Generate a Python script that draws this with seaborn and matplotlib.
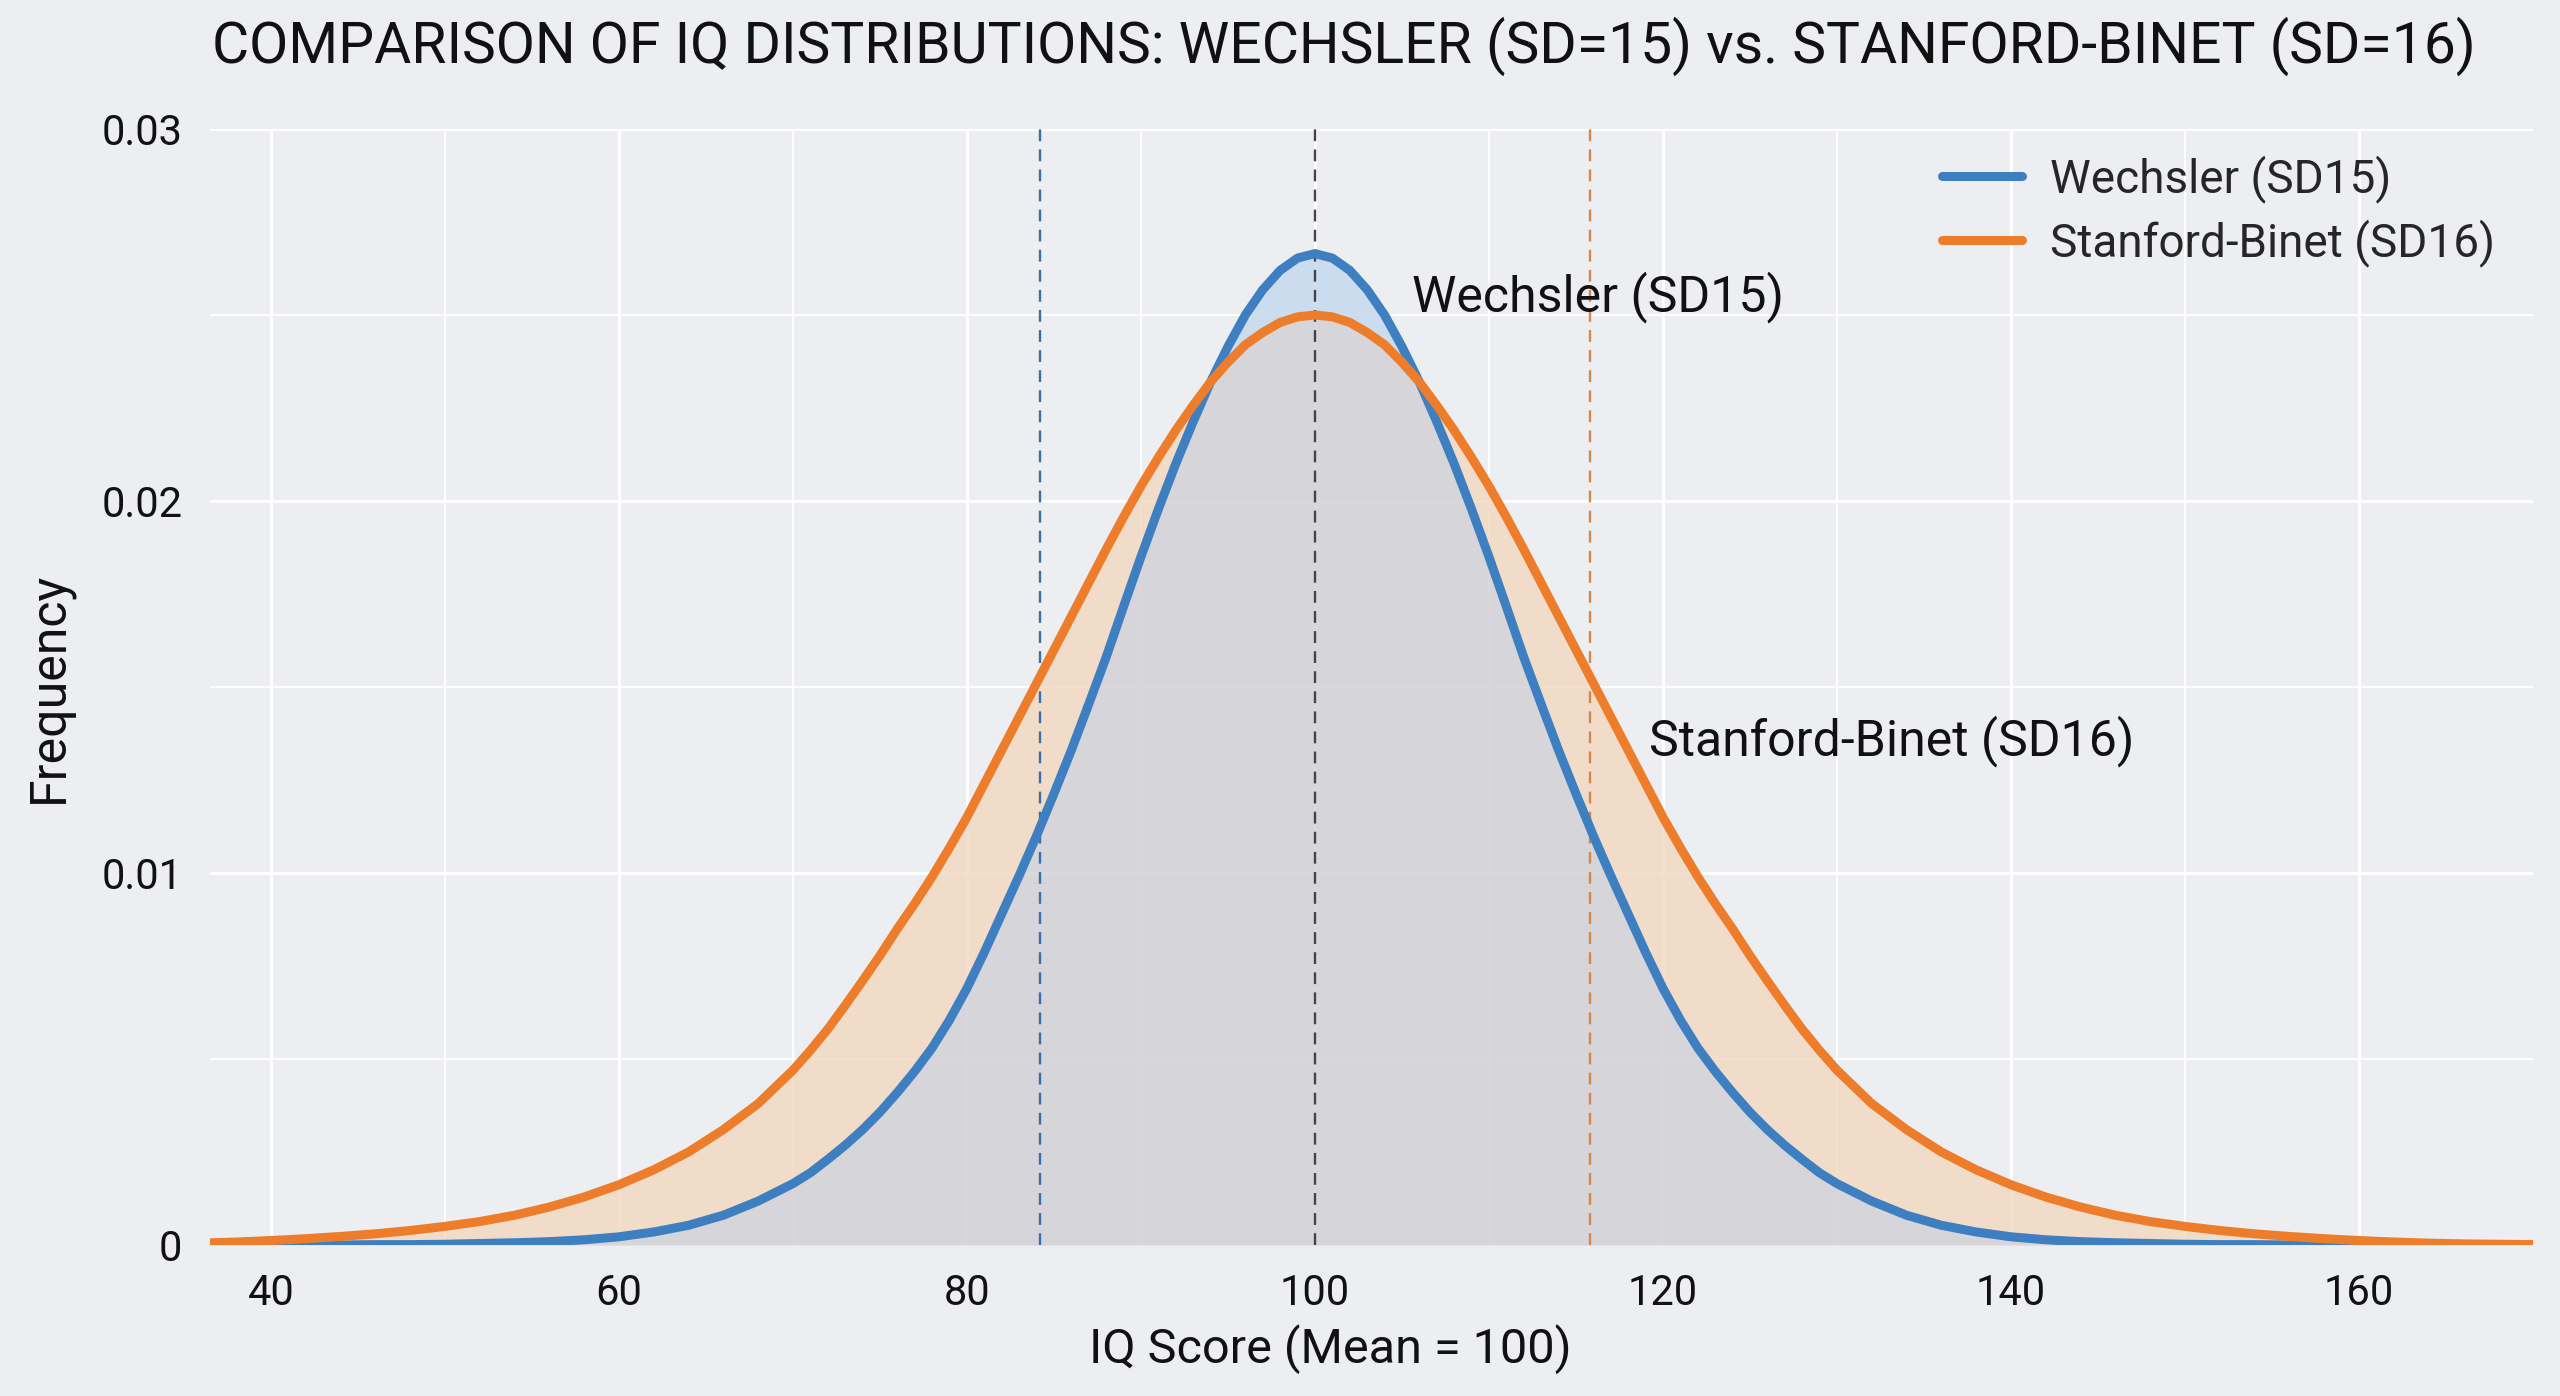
import numpy as np
import pandas as pd
import matplotlib
matplotlib.use("Agg")
import matplotlib.pyplot as plt
from matplotlib.ticker import MultipleLocator, FixedLocator
from matplotlib.lines import Line2D
import seaborn as sns

# values (every 2 points in the tails, every point in the middle)
wechsler_iq = list(range(40, 70, 2)) + list(range(70, 131)) + list(range(132, 161, 2))
wechsler_freq = [
    0.0, 0.0, 0.0, 0.00001, 0.00001, 0.00002, 0.00004, 0.00006, 0.00009, 0.00014,
    0.00022, 0.00035, 0.00053, 0.00080, 0.00118,
    0.00165, 0.00194, 0.00230, 0.00268, 0.00310, 0.00357, 0.00410, 0.00467, 0.00530, 0.00605,
    0.00690, 0.00787, 0.00890, 0.00993, 0.01100, 0.01213, 0.01330, 0.01454, 0.01580, 0.01716,
    0.01850, 0.01978, 0.02100, 0.02213, 0.02320, 0.02415, 0.02500, 0.02568, 0.02620, 0.02653,
    0.02665,
    0.02653, 0.02620, 0.02568, 0.02500, 0.02415, 0.02320, 0.02213, 0.02100, 0.01978, 0.01850,
    0.01716, 0.01580, 0.01454, 0.01330, 0.01213, 0.01100, 0.00993, 0.00890, 0.00787, 0.00690,
    0.00605, 0.00530, 0.00467, 0.00410, 0.00357, 0.00310, 0.00268, 0.00230, 0.00194, 0.00165,
    0.00118, 0.00080, 0.00053, 0.00035, 0.00022, 0.00014, 0.00009, 0.00006, 0.00004, 0.00002,
    0.00001, 0.00001, 0.0, 0.0, 0.0,
]

binet_iq = list(range(36, 70, 2)) + list(range(70, 131)) + list(range(132, 171, 2))
binet_freq = [
    0.00005, 0.00008, 0.00012, 0.00017, 0.00023, 0.0003, 0.00039, 0.0005, 0.00063, 0.0008,
    0.00102, 0.00129, 0.00162, 0.00202, 0.0025, 0.0031, 0.0038,
    0.0047, 0.00523, 0.0058, 0.00644, 0.0071, 0.00778, 0.0085, 0.00918, 0.0099, 0.01068,
    0.0115, 0.0124, 0.0133, 0.0142, 0.0151, 0.0160, 0.0169, 0.0178, 0.0187, 0.01957,
    0.0204, 0.02117, 0.0219, 0.02257, 0.0232, 0.02373, 0.0242, 0.02453, 0.0248, 0.02495,
    0.0250,
    0.02495, 0.0248, 0.02453, 0.0242, 0.02373, 0.0232, 0.02257, 0.0219, 0.02117, 0.0204,
    0.01957, 0.0187, 0.0178, 0.0169, 0.0160, 0.0151, 0.0142, 0.0133, 0.0124, 0.0115,
    0.01068, 0.0099, 0.00918, 0.0085, 0.00778, 0.0071, 0.00644, 0.0058, 0.00523, 0.0047,
    0.0038, 0.0031, 0.0025, 0.00202, 0.00162, 0.00129, 0.00102, 0.0008, 0.00063, 0.0005,
    0.00039, 0.0003, 0.00023, 0.00017, 0.00012, 0.00008, 0.00005, 0.00003, 0.00002, 0.00001,
]

marker_iq = [84.2, 100, 115.8]
series_names = ["Wechsler (SD15)", "Stanford-Binet (SD16)"]

blue = "#3e7fc1"
orange = "#ee7d2b"
bg = "#eceef1"
ink = "#111111"

sns.set_theme(style="whitegrid")
plt.rcParams["font.family"] = ["Roboto", "DejaVu Sans"]

df_w = pd.DataFrame({"iq": wechsler_iq, "freq": wechsler_freq, "test": series_names[0]})
df_b = pd.DataFrame({"iq": binet_iq, "freq": binet_freq, "test": series_names[1]})
df = pd.concat([df_w, df_b], ignore_index=True)

# both series share the same x steps; outside the Wechsler range it counts as 0
wide = df.pivot(index="iq", columns="test", values="freq").fillna(0.0)
low = np.minimum(wide[series_names[0]], wide[series_names[1]])

fig = plt.figure(figsize=(25.6, 13.96), dpi=100, facecolor=bg)
ax = fig.add_axes([210/2560, 1 - 1245/1396, (2533 - 210)/2560, (1245 - 129)/1396])
ax.set_facecolor(bg)

ax.fill_between(wide.index, 0, low, color="#d3d1d6", alpha=0.85, lw=0, zorder=1)
ax.fill_between(wide.index, low, wide[series_names[0]], color="#c6d9ee", alpha=0.85, lw=0, zorder=1)
ax.fill_between(wide.index, low, wide[series_names[1]], color="#f3d9c4", alpha=0.85, lw=0, zorder=1)

sns.lineplot(data=df, x="iq", y="freq", hue="test", hue_order=series_names,
             palette=[blue, orange], linewidth=6.5, ax=ax, legend=False, zorder=3,
             solid_joinstyle="round", solid_capstyle="butt")

for xv, c in zip(marker_iq, ["#3a6ea6", "#444444", "#d4874d"]):
    ax.axvline(xv, color=c, lw=1.7, dashes=(5, 3.5), zorder=2)

ax.set_xlim(36.5, 170)
ax.set_ylim(0, 0.03)
ax.xaxis.set_major_locator(MultipleLocator(20))
ax.xaxis.set_minor_locator(FixedLocator([50, 70, 90, 110, 130, 150]))
ax.yaxis.set_major_locator(FixedLocator([0, 0.01, 0.02, 0.03]))
ax.yaxis.set_minor_locator(FixedLocator([0.005, 0.015, 0.025]))
ax.set_yticklabels(["0", "0.01", "0.02", "0.03"])
ax.grid(which="major", color="white", lw=2.2, zorder=0)
ax.grid(which="minor", color="white", lw=1.4, zorder=0)
ax.set_axisbelow(True)
ax.tick_params(axis="both", which="both", length=0, labelsize=30, colors=ink)
ax.tick_params(axis="x", pad=20)
ax.tick_params(axis="y", pad=20)
for s in ax.spines.values():
    s.set_visible(False)

ax.set_xlabel("IQ Score (Mean = 100)", fontsize=35, color=ink)
ax.xaxis.set_label_coords(0.4824, -0.0932)
ax.xaxis.label.set_va("center")
ax.set_ylabel("Frequency", fontsize=36, color=ink)
ax.yaxis.set_label_coords(-0.0693, 0.5)
ax.yaxis.label.set_va("center")

ax.text(105.6, 0.02548, series_names[0], fontsize=36, va="center", ha="left", color=ink)
ax.text(119.2, 0.01354, series_names[1], fontsize=36, va="center", ha="left", color=ink)

handles = [Line2D([], [], color=blue, lw=6.5), Line2D([], [], color=orange, lw=6.5)]
ax.legend(handles, series_names, loc="upper right", bbox_to_anchor=(0.9836, 0.977),
          frameon=False, fontsize=33, handlelength=1.75, handletextpad=0.6,
          labelspacing=0.35, borderaxespad=0, borderpad=0)

fig.text(1344/2560, 1 - 46/1396, "COMPARISON OF IQ DISTRIBUTIONS: WECHSLER (SD=15) vs. STANFORD-BINET (SD=16)",
         ha="center", va="center", fontsize=41, color=ink)

fig.savefig("out.png", dpi=100, facecolor=bg)
